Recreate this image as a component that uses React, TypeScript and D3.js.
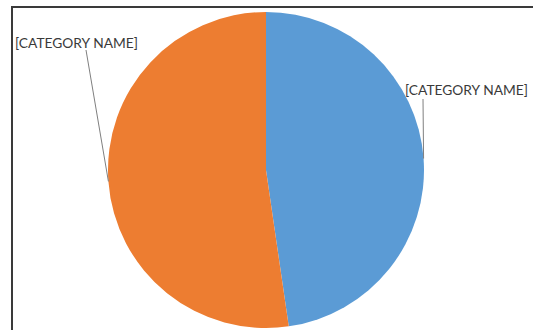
import React from "react";
import * as d3 from "d3";

const categories = ["[CATEGORY NAME]", "[CATEGORY NAME]"];
const values = [47.7, 52.3];
const colors = ["#5B9BD5", "#ED7D31"];

const W = 533;
const H = 330;
const cx = 266;
const cy = 170;
const R = 158;

export default function App() {
  const pie = d3.pie<number>().sort(null).value((d) => d);
  const arcs = pie(values);
  const arcGen = d3.arc<d3.PieArcDatum<number>>().innerRadius(0).outerRadius(R);
  const labels = [
    { x: 405, y: 95, lx: 423, ly: 99 },
    { x: 15, y: 48, lx: 86, ly: 50 },
  ];
  return (
    <div style={{ position: "absolute", left: 0, top: 0 }}>
      <svg width={W} height={H} style={{ display: "block" }}>
        <rect width={W} height={H} fill="#fff" />
        <line x1={11} y1={7} x2={W} y2={7} stroke="#3a3a3a" strokeWidth={2} />
        <line x1={12} y1={7} x2={12} y2={H} stroke="#3a3a3a" strokeWidth={2} />
        <g transform={`translate(${cx},${cy})`}>
          {arcs.map((a, i) => (
            <path key={i} d={arcGen(a) || ""} fill={colors[i]} />
          ))}
        </g>
        {labels.map((l, i) => {
          const a = arcs[i];
          const mid = (a.startAngle + a.endAngle) / 2;
          const ex = cx + R * Math.sin(mid);
          const ey = cy - R * Math.cos(mid);
          return (
            <g key={i}>
              <line x1={l.lx} y1={l.ly} x2={ex} y2={ey} stroke="#7f7f7f" strokeWidth={1} />
              <text x={l.x} y={l.y} fontFamily="Lato, sans-serif" fontSize={14} fill="#3a3a3a" textLength={123} lengthAdjust="spacingAndGlyphs">
                {categories[i]}
              </text>
            </g>
          );
        })}
      </svg>
    </div>
  );
}
